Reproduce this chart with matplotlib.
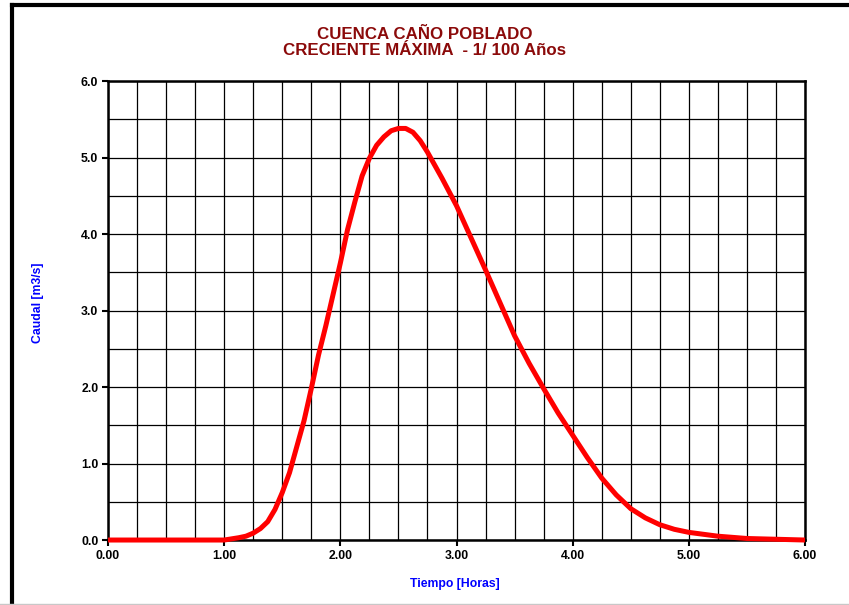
import matplotlib.pyplot as plt
from matplotlib.ticker import MultipleLocator, FormatStrFormatter
from matplotlib.lines import Line2D

plt.rcParams['font.family'] = ['Liberation Sans', 'DejaVu Sans']

# Hidrograma de creciente
tiempo = [0.0, 0.25, 0.5, 0.75, 1.0, 1.125, 1.1875, 1.25, 1.3125, 1.375,
          1.4375, 1.5, 1.5625, 1.625, 1.6875, 1.75, 1.8125, 1.875, 2.0,
          2.0625, 2.125, 2.1875, 2.25, 2.3125, 2.375, 2.4375, 2.5, 2.5625,
          2.625, 2.6875, 2.75, 2.8125, 2.875, 3.0, 3.125, 3.25, 3.375, 3.5,
          3.625, 3.75, 3.875, 4.0, 4.125, 4.25, 4.375, 4.5, 4.625, 4.75,
          4.875, 5.0, 5.25, 5.5, 5.75, 6.0]
caudal = [0.0, 0.0, 0.0, 0.0, 0.0, 0.03, 0.05, 0.09, 0.15, 0.24,
          0.4, 0.62, 0.88, 1.22, 1.56, 1.98, 2.42, 2.8, 3.62,
          4.06, 4.42, 4.76, 4.99, 5.16, 5.27, 5.35, 5.38, 5.38,
          5.33, 5.22, 5.07, 4.9, 4.73, 4.37, 3.95, 3.53, 3.1, 2.67,
          2.31, 1.98, 1.66, 1.37, 1.08, 0.81, 0.59, 0.41, 0.29, 0.2,
          0.14, 0.1, 0.05, 0.02, 0.01, 0.0]

titulo = 'CUENCA CAÑO POBLADO\nCRECIENTE MÁXIMA  - 1/ 100 Años'

fig = plt.figure(figsize=(8.49, 6.05), dpi=100)
ax = fig.add_axes([0.1272, 0.1074, 0.8210, 0.7587])

ax.plot(tiempo, caudal, color='#ff0000', linewidth=3.6, zorder=5,
        clip_on=False, solid_capstyle='butt', solid_joinstyle='round')

ax.set_xlim(0, 6)
ax.set_ylim(0, 6)
ax.xaxis.set_major_locator(MultipleLocator(1.0))
ax.xaxis.set_minor_locator(MultipleLocator(0.25))
ax.yaxis.set_major_locator(MultipleLocator(1.0))
ax.yaxis.set_minor_locator(MultipleLocator(0.5))
ax.xaxis.set_major_formatter(FormatStrFormatter('%.2f'))
ax.yaxis.set_major_formatter(FormatStrFormatter('%.1f'))
ax.grid(True, which='both', color='black', linewidth=0.9)
ax.set_axisbelow(True)
ax.tick_params(which='major', direction='out', length=4, width=1.5,
               labelsize=8.8, pad=3)
ax.tick_params(which='minor', length=0)
for lab in ax.get_xticklabels() + ax.get_yticklabels():
    lab.set_fontweight('bold')
for s in ax.spines.values():
    s.set_linewidth(1.8)

ax.set_xlabel('Tiempo [Horas]', color='#0000ff', fontsize=8.8,
              fontweight='bold')
ax.set_ylabel('Caudal [m3/s]', color='#0000ff', fontsize=8.8,
              fontweight='bold')
ax.xaxis.set_label_coords(0.497, -0.095)
ax.yaxis.set_label_coords(-0.1004, 0.518)
ax.xaxis.label.set_va('center')
ax.yaxis.label.set_va('center')

fig.text(0.5, 0.93, titulo, ha='center', va='center', color='#8b0a0a',
         fontsize=12.2, fontweight='bold', linespacing=1.05)

# marco de la imagen
fig.add_artist(Line2D([12 / 849, 12 / 849], [0.0, 1 - 5 / 605],
                      color='black', linewidth=3))
fig.add_artist(Line2D([12 / 849, 1.0], [1 - 5 / 605, 1 - 5 / 605],
                      color='black', linewidth=3))
fig.add_artist(Line2D([0.0, 1.0], [1 - 603.5 / 605, 1 - 603.5 / 605],
                      color='#c8c8c8', linewidth=1))

fig.savefig('out.png', dpi=100)
